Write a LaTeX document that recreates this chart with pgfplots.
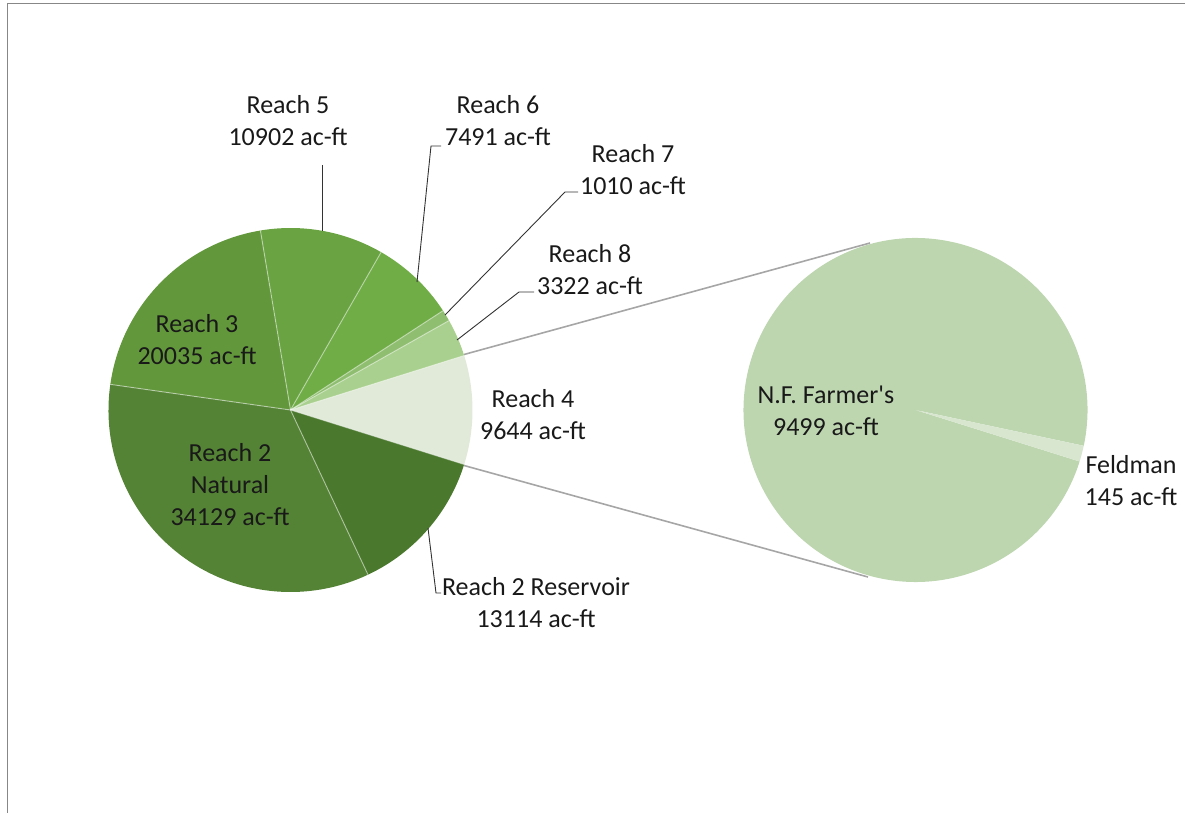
\documentclass[border=0pt]{standalone}
\usepackage{fontspec}
\setmainfont{Carlito}[Ligatures=TeXOff]
\usepackage{pgfplots}
\pgfplotsset{compat=1.18}

\definecolor{cRes}{RGB}{74,120,45}
\definecolor{cNat}{RGB}{84,131,53}
\definecolor{cRiii}{RGB}{98,151,59}
\definecolor{cRv}{RGB}{105,163,66}
\definecolor{cRvi}{RGB}{112,173,71}
\definecolor{cRvii}{RGB}{143,190,112}
\definecolor{cRviii}{RGB}{169,208,142}
\definecolor{cRiv}{RGB}{225,234,217}
\definecolor{cFarm}{RGB}{189,214,176}
\definecolor{cFeld}{RGB}{216,230,208}
\definecolor{txt}{RGB}{25,25,25}
\definecolor{frame}{RGB}{135,135,135}

% slice values, ac-ft
\def\vNat{34129}
\def\vRes{13114}
\def\vRiii{20035}
\def\vRiv{9644}
\def\vRv{10902}
\def\vRvi{7491}
\def\vRvii{1010}
\def\vRviii{3322}
\def\vFarm{9499}
\def\vFeld{145}

% cumulative angles, counterclockwise from the lower edge of Reach 4
\edef\tot{\fpeval{\vNat+\vRes+\vRiii+\vRiv+\vRv+\vRvi+\vRvii+\vRviii}}
\edef\aA{\fpeval{round(-180*\vRiv/\tot,3)}}
\edef\aB{\fpeval{round(\aA+360*\vRiv/\tot,3)}}
\edef\aC{\fpeval{round(\aB+360*\vRviii/\tot,3)}}
\edef\aD{\fpeval{round(\aC+360*\vRvii/\tot,3)}}
\edef\aE{\fpeval{round(\aD+360*\vRvi/\tot,3)}}
\edef\aF{\fpeval{round(\aE+360*\vRv/\tot,3)}}
\edef\aG{\fpeval{round(\aF+360*\vRiii/\tot,3)}}
\edef\aH{\fpeval{round(\aG+360*\vNat/\tot,3)}}
\edef\aI{\fpeval{round(\aA+360,3)}}
% secondary pie
\edef\bA{\aA}
\edef\bB{\fpeval{round(\bA+360*\vFeld/(\vFarm+\vFeld),3)}}
\edef\bC{\fpeval{round(\bA+360,3)}}

\tikzset{
  lbl/.style={font=\fontsize{26}{32}\selectfont,text=txt,align=center,inner sep=0pt},
  lead/.style={draw=black!80,line width=0.9pt},
  sep/.style={draw=white,draw opacity=0.45,line width=1pt},
}

\begin{document}
\begin{tikzpicture}
\begin{axis}[
  x=1pt, y=1pt,
  xmin=0, xmax=1185, ymin=0, ymax=812,
  hide axis, clip=false,
]
% frame
\draw[frame,line width=1.6pt] (axis cs:7.5,-5) -- (axis cs:7.5,808.5) -- (axis cs:1190,808.5);

% main pie
\fill[cRiv]   (axis cs:290.5,402) -- ++(\aA:182pt) arc[start angle=\aA,end angle=\aB,radius=182pt] -- cycle;
\fill[cRviii] (axis cs:290.5,402) -- ++(\aB:182pt) arc[start angle=\aB,end angle=\aC,radius=182pt] -- cycle;
\fill[cRvii]  (axis cs:290.5,402) -- ++(\aC:182pt) arc[start angle=\aC,end angle=\aD,radius=182pt] -- cycle;
\fill[cRvi]   (axis cs:290.5,402) -- ++(\aD:182pt) arc[start angle=\aD,end angle=\aE,radius=182pt] -- cycle;
\fill[cRv]    (axis cs:290.5,402) -- ++(\aE:182pt) arc[start angle=\aE,end angle=\aF,radius=182pt] -- cycle;
\fill[cRiii]  (axis cs:290.5,402) -- ++(\aF:182pt) arc[start angle=\aF,end angle=\aG,radius=182pt] -- cycle;
\fill[cNat]   (axis cs:290.5,402) -- ++(\aG:182pt) arc[start angle=\aG,end angle=\aH,radius=182pt] -- cycle;
\fill[cRes]   (axis cs:290.5,402) -- ++(\aH:182pt) arc[start angle=\aH,end angle=\aI,radius=182pt] -- cycle;
\draw[sep] (axis cs:290.5,402) -- ++(\aB:182pt);
\draw[sep] (axis cs:290.5,402) -- ++(\aC:182pt);
\draw[sep] (axis cs:290.5,402) -- ++(\aD:182pt);
\draw[sep] (axis cs:290.5,402) -- ++(\aE:182pt);
\draw[sep] (axis cs:290.5,402) -- ++(\aF:182pt);
\draw[sep] (axis cs:290.5,402) -- ++(\aG:182pt);
\draw[sep] (axis cs:290.5,402) -- ++(\aH:182pt);
\draw[sep] (axis cs:290.5,402) -- ++(\aA:182pt);

% secondary pie
\fill[cFarm] (axis cs:915.5,402) -- ++(\bB:172pt) arc[start angle=\bB,end angle=\bC,radius=172pt] -- cycle;
\fill[cFeld] (axis cs:915.5,402) -- ++(\bA:172pt) arc[start angle=\bA,end angle=\bB,radius=172pt] -- cycle;

% connector lines
\draw[black!35,line width=1.6pt] (axis cs:464,457.5) -- (axis cs:870,569);
\draw[black!35,line width=1.6pt] (axis cs:464,346.5) -- (axis cs:868,235);

% leader lines
\draw[lead] (axis cs:322,647) -- (axis cs:322,581);
\draw[lead] (axis cs:441,666) -- (axis cs:431,666) -- (axis cs:417,530);
\draw[lead] (axis cs:578,620) -- (axis cs:565,620) -- (axis cs:445,497);
\draw[lead] (axis cs:534,520) -- (axis cs:519,520) -- (axis cs:457,472);
\draw[lead] (axis cs:441,219) -- (axis cs:436,219) -- (axis cs:428,284);

% labels
\node[lbl] at (axis cs:288,691) {Reach 5\\10902 ac-ft};
\node[lbl] at (axis cs:498,691) {Reach 6\\7491 ac-ft};
\node[lbl] at (axis cs:633,642) {Reach 7\\1010 ac-ft};
\node[lbl] at (axis cs:590,542) {Reach 8\\3322 ac-ft};
\node[lbl] at (axis cs:197,472) {Reach 3\\20035 ac-ft};
\node[lbl] at (axis cs:230,327) {Reach 2\\Natural\\34129 ac-ft};
\node[lbl] at (axis cs:533,397) {Reach 4\\9644 ac-ft};
\node[lbl] at (axis cs:536,209) {Reach 2 Reservoir\\13114 ac-ft};
\node[lbl] at (axis cs:826,401) {N.F. Farmer's\\9499 ac-ft};
\node[lbl] at (axis cs:1131,331) {Feldman\\145 ac-ft};
\end{axis}
\pgfresetboundingbox
\useasboundingbox (current axis.south west) rectangle (current axis.north east);
\end{tikzpicture}
\end{document}
